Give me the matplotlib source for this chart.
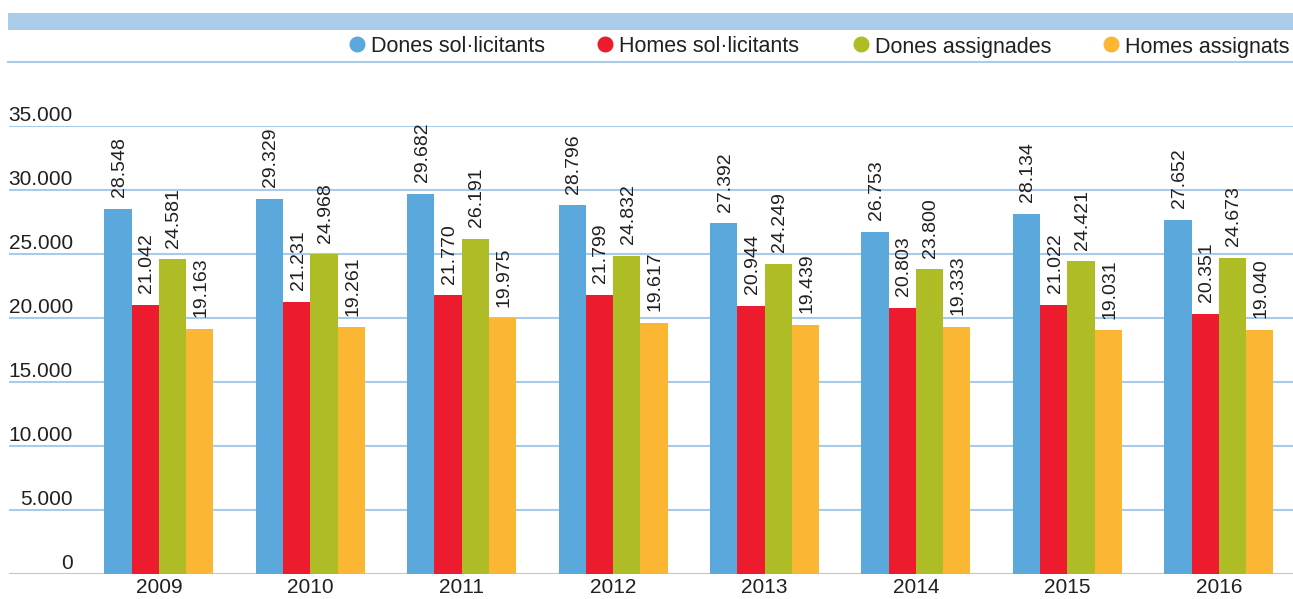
import matplotlib
matplotlib.use("Agg")
import matplotlib.pyplot as plt
from matplotlib.lines import Line2D
from matplotlib.patches import Rectangle
import matplotlib.transforms as mtransforms
import numpy as np

plt.rcParams['font.family'] = ['Liberation Sans', 'DejaVu Sans']

years = ["2009", "2010", "2011", "2012", "2013", "2014", "2015", "2016"]
series_names = ["Dones sol·licitants", "Homes sol·licitants", "Dones assignades", "Homes assignats"]
dones_sol = [28548, 29329, 29682, 28796, 27392, 26753, 28134, 27652]
homes_sol = [21042, 21231, 21770, 21799, 20944, 20803, 21022, 20351]
dones_ass = [24581, 24968, 26191, 24832, 24249, 23800, 24421, 24673]
homes_ass = [19163, 19261, 19975, 19617, 19439, 19333, 19031, 19040]
yticks = [0, 5000, 10000, 15000, 20000, 25000, 30000, 35000]

colors = ["#5aa8dc", "#ec1c2e", "#aebd25", "#fbb733"]
grid_c = "#a8cbea"
text_c = "#231f20"

W, H = 1293, 599
fig = plt.figure(figsize=(W / 100, H / 100), dpi=100)

def fx(px):
    return px / W

def fy(py):
    return 1 - py / H

# axes: left 9px, right edge, y=0 at 574px, y=35000 at 126px
ax = fig.add_axes([fx(9), fy(574), 1 - fx(9), (574 - 126) / H])
ax.set_ylim(0, 35000)
ax.set_xlim(-0.99, 7.49)

fmt = lambda v: f"{v:,}".replace(",", ".")

x = np.arange(len(years))
bw = 0.18
all_series = [dones_sol, homes_sol, dones_ass, homes_ass]
for k, vals in enumerate(all_series):
    pos = x + (k - 1.5) * bw
    ax.bar(pos, vals, width=bw, color=colors[k], zorder=3, linewidth=0)
    for xp, v in zip(pos, vals):
        ax.annotate(fmt(v), (xp, v), xytext=(1, 8.5), textcoords="offset points",
                    rotation=90, ha="center", va="bottom", fontsize=14,
                    color=text_c, zorder=4, annotation_clip=False)

ax.set_yticks(yticks)
ax.set_yticklabels([fmt(v) for v in yticks])
ax.yaxis.grid(True, color=grid_c, linewidth=1.5, zorder=0)
ax.tick_params(axis="y", length=0, pad=-46, labelsize=15, labelcolor=text_c)
offset = mtransforms.ScaledTranslation(0, 1 / 100, fig.dpi_scale_trans)
for lbl in ax.get_yticklabels():
    lbl.set_horizontalalignment("right")
    lbl.set_verticalalignment("bottom")
    lbl.set_transform(lbl.get_transform() + offset)

ax.set_xticks(x)
ax.set_xticklabels(years)
ax.tick_params(axis="x", length=0, pad=3, labelsize=15, labelcolor=text_c)

for s in ax.spines.values():
    s.set_visible(False)
ax.set_facecolor("none")

# top band
fig.add_artist(Rectangle((fx(8), fy(30)), 1 - fx(8), (30 - 13) / H,
                         transform=fig.transFigure, color="#abcdea", linewidth=0))
# line under legend
fig.add_artist(Line2D([fx(8), 1], [fy(62), fy(62)], transform=fig.transFigure,
                      color=grid_c, linewidth=1.5))

# legend
leg_x = [357, 605, 861, 1111]
for k, name in enumerate(series_names):
    fig.add_artist(Line2D([fx(leg_x[k])], [fy(44)], transform=fig.transFigure,
                          marker="o", markersize=10.5, color=colors[k], linestyle="none"))
    fig.text(fx(leg_x[k] + 14), fy(47), name, fontsize=15.5, color=text_c,
             ha="left", va="center")

fig.savefig("out.png", dpi=100)
